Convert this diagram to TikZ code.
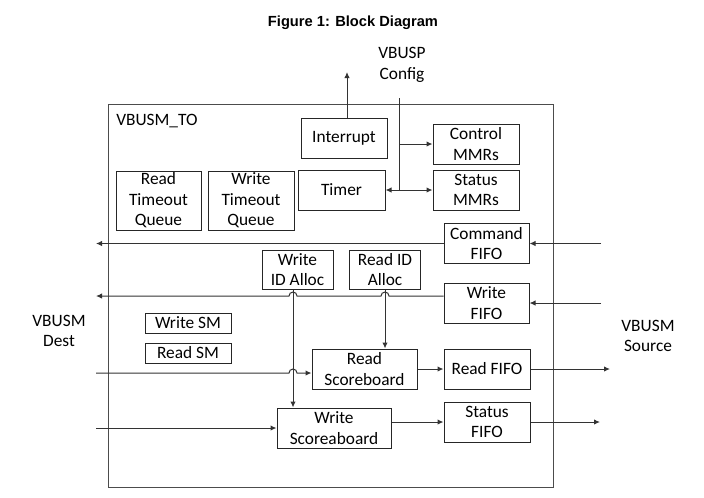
\documentclass[tikz,border=0pt]{standalone}
\usepackage{fontspec}
\setmainfont{Carlito}
\newfontfamily\titlefont{Liberation Sans}
\usepackage{tikz}
\usetikzlibrary{arrows.meta}
\usetikzlibrary{calc}
\usetikzlibrary{positioning}

\begin{document}
\begin{tikzpicture}
	[x=0.75pt,y=-0.75pt,
	every node/.style={font=\fontsize{13}{15.4}\selectfont},
	>={Latex[length=4.5pt,width=4pt]},
	wire/.style={draw=black!80,line width=0.75pt},
	blk/.style={draw=black!85,line width=0.75pt,rectangle,align=center,inner sep=0pt,
		minimum width=64.5pt,minimum height=30pt},
	lbl/.style={align=center,inner sep=0pt}]
	\useasboundingbox (0,0) rectangle (704,497);
	\node[font=\titlefont\bfseries\fontsize{11}{13}\selectfont] (title) at (353,23) {Figure 1: Block Diagram};
	\draw[draw=black!70,line width=0.75pt] (108,104) rectangle (553,487);
	\node[anchor=west,inner sep=0pt] (toname) at (116,121) {VBUSM\_TO};
	% config side
	\node[lbl] (cfg) at (402,65) {VBUSP\\Config};
	\node[blk] (intr) at (344,138) {Interrupt};
	\node[blk] (ctrl) at (476,144) {Control\\MMRs};
	\node[blk] (stat) at (476,190) {Status\\MMRs};
	\node[blk,minimum width=65.25pt] (timer) at (341.5,190) {Timer};
	\node[blk,minimum width=63.75pt,minimum height=44.25pt] (rtq) at (158.5,200.5) {Read\\Timeout\\Queue};
	\node[blk,minimum height=44.25pt] (wtq) at (251,200.5) {Write\\Timeout\\Queue};
	% fifos and id alloc
	\node[blk,minimum width=63.75pt] (cmd) at (486.5,243.5) {Command\\FIFO};
	\node[blk,minimum width=63.75pt] (wfifo) at (486.5,303) {Write\\FIFO};
	\node[blk,minimum width=53.25pt,minimum height=29.25pt] (wid) at (297.5,269.5) {Write\\ID Alloc};
	\node[blk,minimum width=53.25pt,minimum height=29.25pt] (rid) at (385,269.5) {Read ID\\Alloc};
	\node[blk,minimum height=15pt] (wsm) at (188,323) {Write SM};
	\node[blk,minimum height=15pt] (rsm) at (188,353) {Read SM};
	\node[blk,minimum width=78.75pt] (rsb) at (364.5,369) {Read\\Scoreboard};
	\node[blk] (rfifo) at (487,369) {Read FIFO};
	\node[blk] (sfifo) at (487,422) {Status\\FIFO};
	\node[blk,minimum width=85.5pt] (wsb) at (334,428) {Write\\Scoreaboard};
	\node[lbl] (dest) at (59,331) {VBUSM\\Dest};
	\node[lbl] (src) at (648,336) {VBUSM\\Source};
	% free ends
	\coordinate (irqout) at (347,72);
	\coordinate (cfgtop) at (399,98);
	\coordinate (srccmd) at (601,243.5);
	\coordinate (srcwr) at (601,303);
	\coordinate (dstcmd) at (96,243.5);
	\coordinate (dstwr) at (96,296);
	\coordinate (srd) at (96,373);
	\coordinate (swr) at (96,428);
	\coordinate (rout) at (610,369);
	\coordinate (sout) at (600,422);
	\coordinate (wtap) at ($(wid.south)+(-4.5,0)$);
	\coordinate (wo) at ($(wfifo.west)+(0,-7)$);
	% connectors
	\draw[wire,->] (intr.north -| irqout) -- (irqout);
	\draw[wire] (cfgtop) -- (cfgtop |- timer.east) coordinate (cfgbot);
	\draw[wire,->] (cfgtop |- ctrl.west) -- (ctrl.west);
	\draw[wire,->] (cfgbot) -- (stat.west);
	\draw[wire,->] (cfgbot) -- (timer.east);
	\draw[wire,->] (srccmd) -- (cmd.east);
	\draw[wire,->] (srcwr) -- (wfifo.east);
	\draw[wire,->] (cmd.west) -- (dstcmd);
	\draw[wire,->] (wo) -- ($(rid.south |- wo)+(3pt,0)$) arc[start angle=0,end angle=180,radius=3pt]
		-- ($(wtap |- wo)+(3pt,0)$) arc[start angle=0,end angle=180,radius=3pt] -- (dstwr);
	\draw[wire,->] (wtap) -- (wtap |- wsb.north);
	\draw[wire,->] (rid.south) -- (rid.south |- rsb.north);
	\draw[wire,->] (srd) -- ($(wtap |- srd)+(-3pt,0)$) arc[start angle=180,end angle=0,radius=3pt]
		-- (srd -| rsb.west);
	\draw[wire,->] (swr) -- (swr -| wsb.west);
	\draw[wire,->] (rsb.east) -- (rfifo.west);
	\draw[wire,->] (wsb.east |- sfifo.west) -- (sfifo.west);
	\draw[wire,->] (rfifo.east) -- (rout);
	\draw[wire,->] (sfifo.east) -- (sout);
\end{tikzpicture}
\end{document}
